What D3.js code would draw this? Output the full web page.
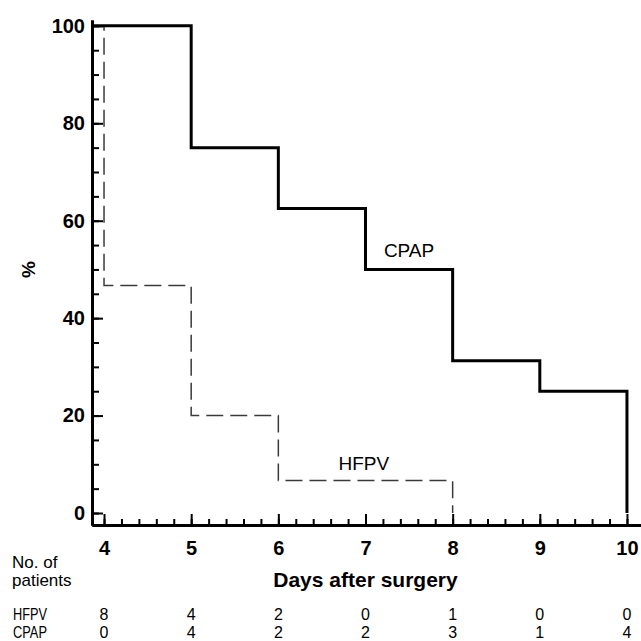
<!DOCTYPE html>
<html>
<head>
<meta charset="utf-8">
<script src="https://cdn.jsdelivr.net/npm/d3@7"></script>
<style>
  body { margin: 0; background: #fff; }
  svg { font-family: "Liberation Sans", Arial, sans-serif; }
  .axis .domain { stroke: #000; stroke-width: 3; }
  .axis line { stroke: #000; stroke-width: 2; }
  .axis text { font-size: 20px; font-weight: bold; fill: #000; }
</style>
</head>
<body>
<div id="chart"></div>
<script>
// data
var days = [4, 5, 6, 7, 8, 9, 10];
var cpapTimes = [5, 6, 7, 8, 9, 10];
var cpapPct = [75, 62.5, 50, 31.25, 25, 0];
var hfpvTimes = [4, 5, 6, 8];
var hfpvPct = [46.7, 20, 6.7, 0];
var hfpvCount = [8, 4, 2, 0, 1, 0, 0];
var cpapCount = [0, 4, 2, 2, 3, 1, 4];
var yTicks = [0, 20, 40, 60, 80, 100];

//define chart area
var svgWidth = 641;
var svgHeight = 641;

var margin = {
  top: 20,
  right: 0,
  bottom: 116,
  left: 92
};

var width = svgWidth - margin.left - margin.right;
var height = svgHeight - margin.top - margin.bottom;

var svg = d3.select("#chart").append("svg")
    .attr("width", svgWidth)
    .attr("height", svgHeight);

var chartGroup = svg.append("g")
    .attr("transform", `translate(${margin.left}, ${margin.top})`);

var xLinearScale = d3.scaleLinear()
    .domain([3.862, 10.161])
    .range([0, width]);
var yLinearScale = d3.scaleLinear()
    .domain([-2.46, 101.2])
    .range([height, 0]);

// minor ticks
chartGroup.append("g")
    .attr("class", "axis")
    .attr("transform", `translate(0, ${height})`)
    .call(d3.axisBottom(xLinearScale)
        .tickValues(d3.range(20, 51).map(d => d / 5))
        .tickSizeInner(-6).tickSizeOuter(0).tickFormat(""));
chartGroup.append("g")
    .attr("class", "axis")
    .call(d3.axisLeft(yLinearScale)
        .tickValues(d3.range(0, 101, 5))
        .tickSizeInner(-7).tickSizeOuter(0).tickFormat(""));

// major ticks + labels
chartGroup.append("g")
    .attr("class", "axis")
    .attr("transform", `translate(0, ${height})`)
    .call(d3.axisBottom(xLinearScale)
        .tickValues(days)
        .tickFormat(d3.format("d"))
        .tickSizeInner(-11).tickSizeOuter(0).tickPadding(16));
chartGroup.append("g")
    .attr("class", "axis")
    .call(d3.axisLeft(yLinearScale)
        .tickValues(yTicks)
        .tickFormat(d3.format("d"))
        .tickSizeInner(-11).tickSizeOuter(0).tickPadding(7));

// survival-type step lines
var x0 = xLinearScale.domain()[0];
var cpapData = [[x0, 100]].concat(cpapTimes.map((t, i) => [t, cpapPct[i]]));
var hfpvData = [[x0, 100]].concat(hfpvTimes.map((t, i) => [t, hfpvPct[i]]));

var stepLine = d3.line()
    .x(d => xLinearScale(d[0]))
    .y(d => yLinearScale(d[1]))
    .curve(d3.curveStepAfter);

chartGroup.append("path")
    .datum(hfpvData)
    .attr("d", stepLine)
    .attr("fill", "none")
    .attr("stroke", "#3a3a3a")
    .attr("stroke-width", 1.5)
    .attr("stroke-dasharray", "17,7");

chartGroup.append("path")
    .datum(cpapData)
    .attr("d", stepLine)
    .attr("fill", "none")
    .attr("stroke", "#000")
    .attr("stroke-width", 3);

// series labels
chartGroup.append("text")
    .attr("x", xLinearScale(7.5))
    .attr("y", yLinearScale(52.5))
    .attr("text-anchor", "middle")
    .attr("font-size", 19)
    .text("CPAP");
chartGroup.append("text")
    .attr("x", xLinearScale(6.98))
    .attr("y", yLinearScale(8.8))
    .attr("text-anchor", "middle")
    .attr("font-size", 19)
    .text("HFPV");

// axes titles
chartGroup.append("text")
    .attr("transform", `translate(${28 - margin.left}, ${yLinearScale(50)}) rotate(-90)`)
    .attr("text-anchor", "middle")
    .attr("dy", "0.35em")
    .attr("font-size", 19)
    .attr("font-weight", "bold")
    .text("%");

chartGroup.append("text")
    .attr("x", xLinearScale(7))
    .attr("y", height + 62)
    .attr("text-anchor", "middle")
    .attr("font-size", 21)
    .attr("font-weight", "bold")
    .text("Days after surgery");

// number at risk table
var tableGroup = svg.append("g");
tableGroup.append("text").attr("x", 12).attr("y", 568).attr("font-size", 17).text("No. of");
tableGroup.append("text").attr("x", 12).attr("y", 586).attr("font-size", 17).text("patients");

var rows = [["HFPV", hfpvCount, 620], ["CPAP", cpapCount, 638]];
rows.forEach(function(r) {
    tableGroup.append("text")
        .attr("x", 13)
        .attr("y", r[2])
        .attr("font-size", 16)
        .attr("textLength", 34)
        .attr("lengthAdjust", "spacingAndGlyphs")
        .text(r[0]);
    tableGroup.selectAll(null)
        .data(r[1])
        .enter()
        .append("text")
        .attr("x", (d, i) => margin.left + xLinearScale(days[i]))
        .attr("y", r[2])
        .attr("text-anchor", "middle")
        .attr("font-size", 16)
        .text(d => d);
});
</script>
</body>
</html>
